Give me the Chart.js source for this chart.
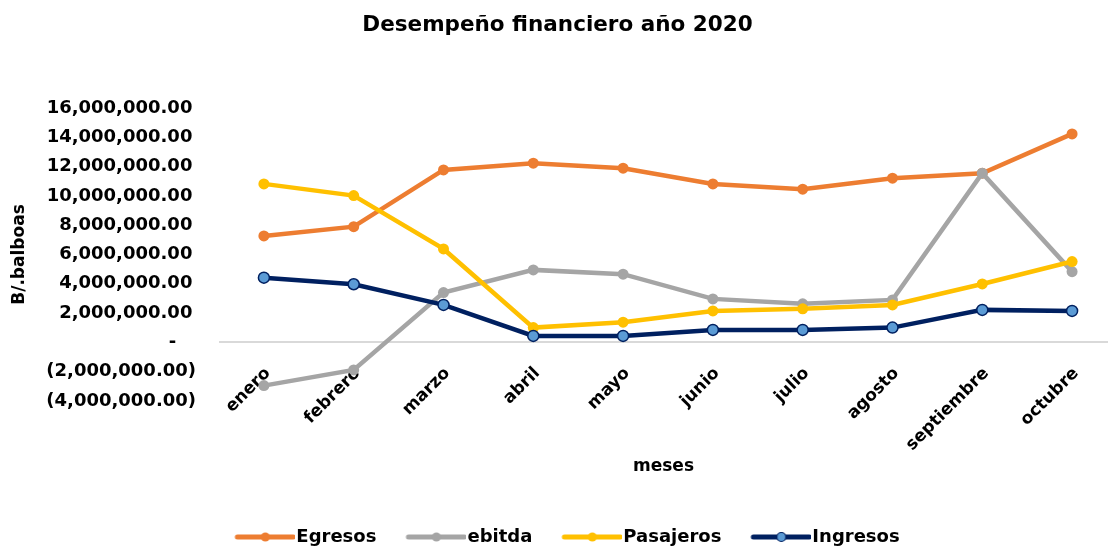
<!DOCTYPE html>
<html>
<head>
<meta charset="utf-8">
<title>Desempeño financiero año 2020</title>
<script src="https://cdn.jsdelivr.net/npm/chart.js@4"></script>
<style>
  html, body { margin: 0; padding: 0; background: #fff; }
  #wrap { width: 1115px; height: 550px; }
</style>
</head>
<body>
<div id="wrap"><canvas id="chart" width="1115" height="550"></canvas></div>
<script>
// Datos (balboas)
const months = ['enero', 'febrero', 'marzo', 'abril', 'mayo', 'junio', 'julio', 'agosto', 'septiembre', 'octubre'];
const egresos = [7270000, 7900000, 11770000, 12230000, 11890000, 10820000, 10460000, 11210000, 11550000, 14230000];
const ebitda = [-2950000, -1880000, 3400000, 4950000, 4660000, 2970000, 2630000, 2900000, 11550000, 4830000];
const pasajeros = [10820000, 10020000, 6380000, 1010000, 1380000, 2150000, 2290000, 2560000, 3990000, 5520000];
const ingresos = [4420000, 3970000, 2560000, 440000, 440000, 850000, 850000, 1010000, 2220000, 2150000];
const yTicks = [-4000000, -2000000, 0, 2000000, 4000000, 6000000, 8000000, 10000000, 12000000, 14000000, 16000000];

const FONT = "'DejaVu Sans', 'Open Sans', sans-serif";

// accounting style labels like Excel
function fmtMoney(v) {
  if (v === 0) return '-\u2007\u2009\u2009';
  const s = Math.abs(v).toLocaleString('en-US', { minimumFractionDigits: 2, maximumFractionDigits: 2 });
  return v < 0 ? '(' + s + ')' : s + '\u2009';
}

function toPoints(arr) {
  return arr.map((v, i) => ({ x: i, y: v }));
}

// legend icon: line with small dot in the middle (left part transparent)
function legendIcon(color, dotFill, dotBorder) {
  const c = document.createElement('canvas');
  c.width = 88;
  c.height = 14;
  const g = c.getContext('2d');
  g.strokeStyle = color;
  g.lineWidth = 5;
  g.lineCap = 'round';
  g.beginPath();
  g.moveTo(30, 7);
  g.lineTo(86, 7);
  g.stroke();
  g.beginPath();
  g.arc(58, 7, 4.5, 0, Math.PI * 2);
  g.fillStyle = dotFill;
  g.fill();
  if (dotBorder) {
    g.lineWidth = 1.2;
    g.strokeStyle = dotBorder;
    g.stroke();
  }
  return c;
}

// drawn in this order so Ingresos ends up on top, legend is reversed
const series = [
  { label: 'Ingresos', values: ingresos, color: '#002060', dot: '#5B9BD5', dotBorder: '#002060' },
  { label: 'Pasajeros', values: pasajeros, color: '#FFC000', dot: '#FFC000', dotBorder: null },
  { label: 'ebitda', values: ebitda, color: '#A5A5A5', dot: '#A5A5A5', dotBorder: null },
  { label: 'Egresos', values: egresos, color: '#ED7D31', dot: '#ED7D31', dotBorder: null }
];

const icons = series.map(s => legendIcon(s.color, s.dot, s.dotBorder));

const datasets = series.map(s => ({
  label: s.label,
  data: toPoints(s.values),
  borderColor: s.color,
  backgroundColor: s.color,
  borderWidth: 4.5,
  pointRadius: 5.5,
  pointBackgroundColor: s.dot,
  pointBorderColor: s.dotBorder || s.dot,
  pointBorderWidth: s.dotBorder ? 1.5 : 0,
  tension: 0
}));

new Chart(document.getElementById('chart'), {
  type: 'line',
  data: { datasets: datasets },
  options: {
    responsive: false,
    animation: false,
    devicePixelRatio: 1,
    layout: { padding: { left: 0, right: 0, top: 0, bottom: 0 } },
    scales: {
      x: {
        type: 'linear',
        position: { y: 0 },
        min: -0.5,
        max: 9.4,
        grid: { display: false },
        border: { display: false },
        afterBuildTicks: scale => {
          scale.ticks = months.map((m, i) => ({ value: i }));
        },
        ticks: {
          autoSkip: false,
          minRotation: 45,
          maxRotation: 45,
          padding: 13,
          labelOffset: 4,
          color: '#000',
          font: { family: FONT, size: 17, weight: 'bold' },
          callback: v => months[v]
        },
        title: { display: false }
      },
      y: {
        min: -4000000,
        max: 16000000,
        afterFit: scale => { scale.width = 219; },
        afterBuildTicks: scale => {
          scale.ticks = yTicks.map(v => ({ value: v }));
        },
        grid: {
          drawTicks: false,
          lineWidth: 2,
          color: c => (c.tick && c.tick.value === 0) ? '#d9d9d9' : 'rgba(0,0,0,0)'
        },
        border: { display: false },
        ticks: {
          padding: 23,
          color: '#000',
          font: { family: FONT, size: 18, weight: 'bold' },
          callback: v => fmtMoney(v)
        },
        title: {
          display: true,
          text: 'B/.balboas',
          color: '#000',
          padding: { top: 9, bottom: 0 },
          font: { family: FONT, size: 17, weight: 'bold' }
        }
      }
    },
    plugins: {
      tooltip: { enabled: false },
      title: {
        display: true,
        text: 'Desempeño financiero año 2020',
        color: '#000',
        font: { family: FONT, size: 21.5, weight: 'bold' },
        padding: { top: 13, bottom: 69.2 }
      },
      subtitle: {
        display: true,
        position: 'bottom',
        fullSize: false,
        weight: 500,
        text: 'meses',
        color: '#000',
        font: { family: FONT, size: 17, weight: 'bold' },
        padding: { top: 55.8, bottom: 40.8 }
      },
      legend: {
        position: 'bottom',
        reverse: true,
        maxHeight: 32,
        labels: {
          usePointStyle: true,
          pointStyleWidth: 72,
          padding: 10,
          color: '#000',
          font: { family: FONT, size: 18, weight: 'bold' },
          generateLabels: chart => {
            const items = Chart.defaults.plugins.legend.labels.generateLabels(chart);
            items.forEach(it => { it.pointStyle = icons[it.datasetIndex]; });
            return items;
          }
        }
      }
    }
  }
});
</script>
</body>
</html>
